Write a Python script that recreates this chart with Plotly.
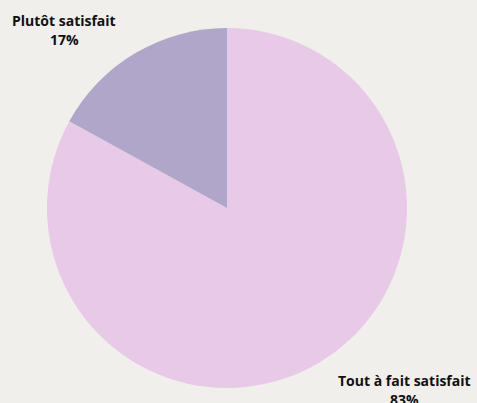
import plotly.graph_objects as go

labels = ["Tout à fait satisfait", "Plutôt satisfait"]
values = [83, 17]
colors = ["#e8c9e7", "#b0a6c9"]

fig = go.Figure(go.Pie(
    labels=labels, values=values, sort=False, direction="clockwise", rotation=0,
    marker=dict(colors=colors, line=dict(width=0)),
    textinfo="none", hoverinfo="label+percent", showlegend=False,
    domain=dict(x=[47/477, 407/477], y=[1-388/403, 1-28/403]),
))

font = dict(family="Open Sans", size=14, color="#111111", weight=700)
# label anchor positions (paper coords)
pos = {"Tout à fait satisfait": (404/477, 1-380/403), "Plutôt satisfait": (64/477, 1-20/403)}
total = sum(values)
for lab, v in zip(labels, values):
    x, y = pos[lab]
    fig.add_annotation(x=x, y=y, xref="paper", yref="paper", text=lab, showarrow=False,
                       font=font, xanchor="center", yanchor="middle")
    fig.add_annotation(x=x, y=y - 19/403, xref="paper", yref="paper",
                       text=f"{round(v/total*100)}%", showarrow=False,
                       font=font, xanchor="center", yanchor="middle")

fig.update_layout(width=477, height=403, margin=dict(l=0, r=0, t=0, b=0),
                  paper_bgcolor="#f0efec", plot_bgcolor="#f0efec")
fig.write_html("out.html", config={"displayModeBar": False},
               post_script="document.body.style.margin='0';document.body.style.overflow='hidden';")
